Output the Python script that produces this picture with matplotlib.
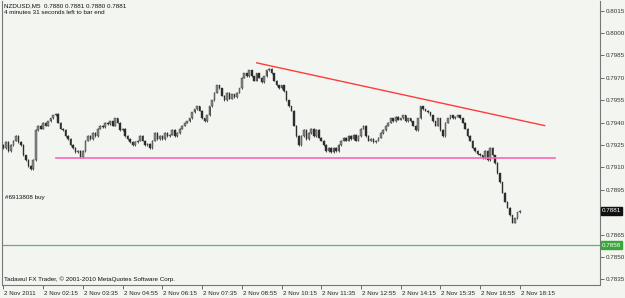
import matplotlib
matplotlib.use("Agg")
import matplotlib.pyplot as plt
import matplotlib.transforms as mtransforms

plt.rcParams["font.family"] = ["Liberation Sans", "DejaVu Sans"]

# ---------------- data ----------------
symbol_line = "NZDUSD,M5  0.7880 0.7881 0.7880 0.7881"
timer_line = "4 minutes 31 seconds left to bar end"
order_label = "#6913808 buy"
copyright_line = "Tadawul FX Trader, \u00a9 2001-2010 MetaQuotes Software Corp."

first_open = 0.7925
closes = [
    0.7923, 0.7927, 0.7921, 0.7925, 0.7928, 0.7931, 0.7927, 0.7925,
    0.7918, 0.7915, 0.7911, 0.7909, 0.7915, 0.7935, 0.7938, 0.7936,
    0.7940, 0.7938, 0.7941, 0.7943, 0.7945, 0.7946, 0.7940, 0.7936,
    0.7935, 0.7931, 0.7929, 0.7925, 0.7923, 0.7920, 0.7921, 0.7917,
    0.7921, 0.7928, 0.7931, 0.7929, 0.7933, 0.7931, 0.7936, 0.7938,
    0.7937, 0.7940, 0.7939, 0.7941, 0.7938, 0.7943, 0.7940, 0.7935,
    0.7936, 0.7931, 0.7929, 0.7927, 0.7925, 0.7927, 0.7928, 0.7931,
    0.7928, 0.7925, 0.7926, 0.7923, 0.7928, 0.7933, 0.7929, 0.7931,
    0.7929, 0.7933, 0.7931, 0.7932, 0.7935, 0.7931, 0.7933, 0.7936,
    0.7938, 0.7940, 0.7941, 0.7943, 0.7947, 0.7949, 0.7951, 0.7948,
    0.7943, 0.7941, 0.7945, 0.7951, 0.7955, 0.7960, 0.7965, 0.7963,
    0.7958, 0.7955, 0.7960, 0.7956, 0.7959, 0.7957, 0.7960, 0.7963,
    0.7970, 0.7973, 0.7971, 0.7975, 0.7971, 0.7968, 0.7973, 0.7970,
    0.7967, 0.7971, 0.7975, 0.7976, 0.7973, 0.7968, 0.7965, 0.7963,
    0.7965, 0.7961, 0.7955, 0.7951, 0.7948, 0.7938, 0.7931, 0.7925,
    0.7931, 0.7935, 0.7929, 0.7933, 0.7936, 0.7931, 0.7935, 0.7930,
    0.7928, 0.7925, 0.7921, 0.7923, 0.7920, 0.7923, 0.7921, 0.7925,
    0.7928, 0.7930, 0.7928, 0.7931, 0.7929, 0.7932, 0.7928, 0.7931,
    0.7936, 0.7938, 0.7931, 0.7928, 0.7929, 0.7927, 0.7928, 0.7930,
    0.7933, 0.7935, 0.7938, 0.7940, 0.7943, 0.7941, 0.7944, 0.7942,
    0.7943, 0.7945, 0.7941, 0.7943, 0.7941, 0.7938, 0.7935, 0.7943,
    0.7951, 0.7949, 0.7948, 0.7947, 0.7945, 0.7941, 0.7938, 0.7943,
    0.7935, 0.7931, 0.7940, 0.7943, 0.7945, 0.7943, 0.7944, 0.7945,
    0.7943, 0.7940, 0.7936, 0.7931, 0.7928, 0.7923, 0.7921, 0.7919,
    0.7918, 0.7916, 0.7921, 0.7915, 0.7923, 0.7918, 0.7913, 0.7906,
    0.7900, 0.7893, 0.7887, 0.7883, 0.7878, 0.7873, 0.7876, 0.7880,
    0.7881,
]

x_tick_bars = [0, 16, 32, 48, 64, 80, 96, 112, 128, 144, 160, 176, 192, 208]
x_tick_labels = ["2 Nov 2011", "2 Nov 02:15", "2 Nov 03:35", "2 Nov 04:55",
                 "2 Nov 06:15", "2 Nov 07:35", "2 Nov 08:55", "2 Nov 10:15",
                 "2 Nov 11:35", "2 Nov 12:55", "2 Nov 14:15", "2 Nov 15:35",
                 "2 Nov 16:55", "2 Nov 18:15"]
y_ticks = [0.8015, 0.8000, 0.7985, 0.7970, 0.7955, 0.7940, 0.7925, 0.7910,
           0.7895, 0.7865, 0.7850, 0.7835]

current_price = 0.7881
order_price = 0.7858
support_level = 0.7916
support_start_bar, support_end_bar = 21, 222
trend_start = (102, 0.7980)
trend_end = (218, 0.7938)

# ---------------- figure ----------------
W, H = 625, 298
FS = 4.5
fig = plt.figure(figsize=(W / 100, H / 100), dpi=100)
bg = "#f3f5f1"
fig.patch.set_facecolor(bg)
ax = fig.add_axes([2 / W, 13 / H, 598 / W, 284 / H])
ax.set_facecolor(bg)

opens = [first_open] + closes[:-1]
for i, (o, c) in enumerate(zip(opens, closes)):
    lo, hi = min(o, c), max(o, c)
    col = "#8a8a8a" if c >= o else "#2b2b2b"
    ax.vlines(i, lo - 0.00004, hi + 0.00004, color="#3a3a3a", lw=0.6, zorder=3)
    ax.bar(i, max(hi - lo, 0.00004), bottom=lo, width=0.65, color=col,
           edgecolor="#333333", linewidth=0.3, zorder=4)

ax.plot([support_start_bar, support_end_bar], [support_level, support_level],
        color="#ff66b3", lw=1.2, zorder=5)
ax.plot([trend_start[0], trend_end[0]], [trend_start[1], trend_end[1]],
        color="#ff3b3b", lw=1.0, zorder=5)
ax.axhline(order_price, color="#5cb85c", lw=0.9, zorder=2)

ax.set_xlim(-0.6, 240.3)
ax.set_ylim(0.78313, 0.80214)

ax.yaxis.tick_right()
ax.set_yticks(y_ticks)
ax.set_yticklabels([f"{v:.4f}" for v in y_ticks])
ax.tick_params(axis="y", direction="out", length=3, width=0.6, pad=1,
               labelsize=FS, colors="#555555", labelcolor="#333333")
ax.set_xticks(x_tick_bars)
ax.set_xticklabels(x_tick_labels, ha="left")
ax.tick_params(axis="x", direction="out", length=3, width=0.6, pad=1.5,
               labelsize=FS, colors="#555555", labelcolor="#222222")
for lab in ax.get_xticklabels():
    lab.set_transform(lab.get_transform() + mtransforms.ScaledTranslation(1 / 100, 0, fig.dpi_scale_trans))

for s in ax.spines.values():
    s.set_color("#777777")
    s.set_linewidth(0.8)
ax.spines["top"].set_visible(False)

# price boxes on the right axis
blend = mtransforms.blended_transform_factory(ax.transAxes, ax.transData)
ax.text(1.003, current_price, f"{current_price:.4f}", transform=blend, fontsize=FS,
        color="white", va="center", ha="left", zorder=10, clip_on=False,
        bbox=dict(boxstyle="square,pad=0.2", fc="#111111", ec="#111111"))
ax.text(1.003, order_price, f"{order_price:.4f}", transform=blend, fontsize=FS,
        color="white", va="center", ha="left", zorder=10, clip_on=False,
        bbox=dict(boxstyle="square,pad=0.2", fc="#3aa63a", ec="#3aa63a"))

# texts
fig.text(4 / W, 1 - 6 / H, symbol_line, fontsize=FS, color="#111111", va="center")
fig.text(4 / W, 1 - 13 / H, timer_line, fontsize=FS, color="#111111", va="center")
fig.text(5 / W, 1 - 198 / H, order_label, fontsize=FS, color="#111111", va="center")
fig.text(4 / W, 1 - 279 / H, copyright_line, fontsize=FS, color="#111111", va="center")

fig.savefig("out.png", dpi=100, facecolor=bg)
